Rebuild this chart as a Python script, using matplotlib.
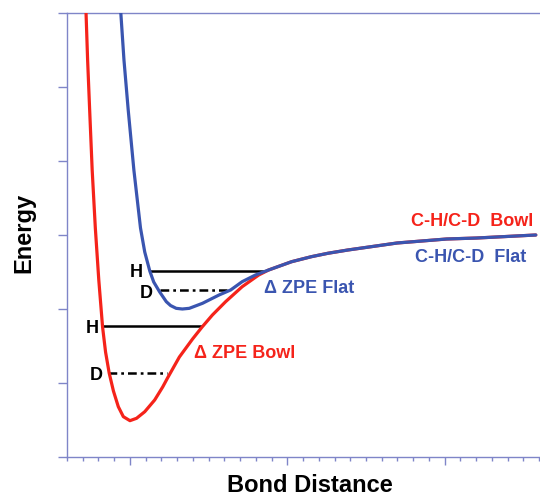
import matplotlib.pyplot as plt
from matplotlib.ticker import MultipleLocator

plt.rcParams['font.family'] = ['Liberation Sans', 'DejaVu Sans']

# Bowl potential
bowl_x = [0.721, 0.731, 0.744, 0.760, 0.780, 0.802, 0.826, 0.845, 0.868, 0.895, 0.926,
          0.958, 1.000, 1.042, 1.094, 1.157, 1.208, 1.239, 1.314, 1.398, 1.457, 1.524,
          1.608, 1.713, 1.818, 1.881, 2.027, 2.153, 2.258, 2.384, 2.698, 3.013, 3.201,
          3.579]
bowl_y = [6.000, 5.365, 4.689, 3.878, 3.095, 2.392, 1.757, 1.419, 1.135, 0.892, 0.680,
          0.545, 0.491, 0.523, 0.612, 0.770, 0.946, 1.068, 1.351, 1.595, 1.753, 1.919,
          2.099, 2.301, 2.459, 2.527, 2.639, 2.707, 2.753, 2.797, 2.892, 2.946, 2.959,
          3.000]

# Flat potential
flat_x = [0.942, 0.962, 0.989, 1.025, 1.067, 1.094, 1.126, 1.151, 1.189, 1.231, 1.258,
          1.294, 1.333, 1.377, 1.461, 1.566, 1.640, 1.713, 1.797, 1.881, 2.027, 2.153,
          2.258, 2.384, 2.698, 3.013, 3.201, 3.579]
flat_y = [6.000, 5.365, 4.689, 3.878, 3.095, 2.770, 2.514, 2.365, 2.230, 2.099, 2.047,
          2.009, 2.000, 2.009, 2.077, 2.189, 2.257, 2.369, 2.459, 2.527, 2.639, 2.707,
          2.753, 2.797, 2.892, 2.946, 2.959, 3.000]

# zero point levels: (y, x start, x end)
flat_H = (2.52, 1.126, 1.849)
flat_D = (2.257, 1.189, 1.616)
bowl_H = (1.764, 0.830, 1.453)
bowl_D = (1.135, 0.862, 1.233)

red = '#f5231a'
blue = '#3a55b0'
axcol = '#7f85c8'

fig = plt.figure(figsize=(5.4, 4.96), dpi=100)
ax = fig.add_axes([67 / 540, 1 - 457 / 496, 1 - 67 / 540 + 0.01, 444 / 496])

ax.plot(bowl_x, bowl_y, color=red, lw=2.3, solid_capstyle='round',
        solid_joinstyle='round', zorder=3)
ax.plot(flat_x, flat_y, color=blue, lw=2.3, solid_capstyle='round',
        solid_joinstyle='round', zorder=4)

for y, x0, x1 in [flat_H, bowl_H]:
    ax.plot([x0, x1], [y, y], color='black', lw=1.8, zorder=2)
for y, x0, x1 in [flat_D, bowl_D]:
    ax.plot([x0, x1], [y, y], color='black', lw=1.8, ls=(0, (3.5, 1.6, 1.1, 1.6)), zorder=2)

tk = dict(fontsize=13, fontweight='bold', va='baseline')
ax.text(1.082, 2.432, 'H', ha='right', color='black', **tk)
ax.text(1.145, 2.155, 'D', ha='right', color='black', **tk)
ax.text(0.799, 1.682, 'H', ha='right', color='black', **tk)
ax.text(0.830, 1.047, 'D', ha='right', color='black', **tk)

lk = dict(fontsize=13, fontweight='bold', va='baseline')
ax.text(1.849, 2.216, '\u0394 ZPE Flat', ha='left', color=blue, **lk)
ax.text(1.409, 1.338, '\u0394 ZPE Bowl', ha='left', color=red, **lk)
ax.text(3.560, 3.122, 'C-H/C-D  Bowl', ha='right', color=red, **lk)
ax.text(3.516, 2.635, 'C-H/C-D  Flat', ha='right', color=blue, **lk)

ax.set_xlim(0.6, 3.64)
ax.set_ylim(0, 6)

ax.spines['right'].set_visible(False)
for s in ['left', 'bottom', 'top']:
    ax.spines[s].set_color(axcol)
    ax.spines[s].set_linewidth(1.0)

ax.xaxis.set_major_locator(MultipleLocator(1))
ax.xaxis.set_minor_locator(MultipleLocator(0.1))
ax.yaxis.set_major_locator(MultipleLocator(1))
ax.tick_params(axis='x', which='major', direction='out', length=6, width=1, color=axcol)
ax.tick_params(axis='x', which='minor', direction='out', length=3, width=1, color=axcol)
ax.tick_params(axis='y', which='major', direction='out', length=6.5, width=1, color=axcol)
ax.set_xticklabels([])
ax.set_yticklabels([])

fig.text(24 / 540, 1 - 233 / 496, 'Energy', rotation=90, fontsize=17, fontweight='bold',
         ha='center', va='center')
fig.text(310 / 540, 1 - 486 / 496, 'Bond Distance', fontsize=17, fontweight='bold',
         ha='center', va='center')

fig.savefig('out.png', dpi=100)
